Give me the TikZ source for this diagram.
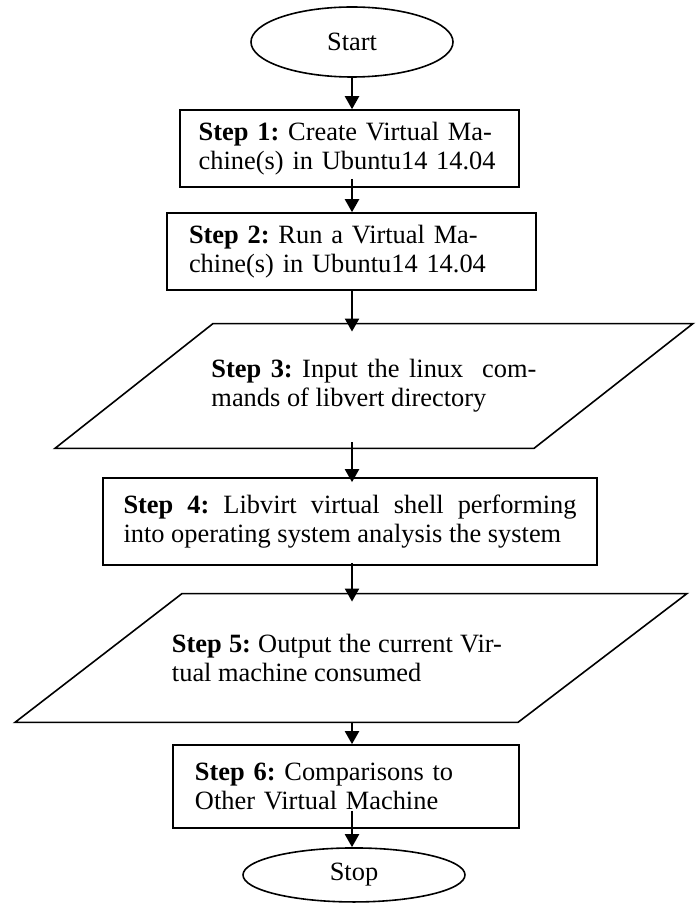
\documentclass[tikz,border=0pt]{standalone}
\usepackage{fontspec}
\setmainfont{Liberation Serif}
\usetikzlibrary{arrows.meta,calc,shapes.geometric}
\tolerance=9999
\hbadness=10000
\frenchspacing

\begin{document}
\begin{tikzpicture}[font=\fontsize{13.2pt}{14.5pt}\selectfont, >={Triangle[length=6.5pt,width=7pt]},
  term/.style={draw, ellipse, line width=0.8pt, inner sep=0pt},
  stepbox/.style={draw, rectangle, line width=0.8pt, align=left, inner xsep=11pt, inner ysep=0pt,
                  minimum height=1.353cm},
  iotext/.style={align=justify, inner sep=0pt},
  io/.style={draw, line width=0.8pt, line join=miter},
  flow/.style={->, line width=1.1pt}]
\useasboundingbox (0,0) rectangle (12.266,-15.869);
\node[term, minimum width=3.55cm, minimum height=1.23cm] (start) at (6.186,-0.738) {Start};
\node[stepbox, inner xsep=9pt, text width=5.3cm, minimum width=5.957cm] (s1) at (6.142,-2.610)
  {\textbf{Step 1:} Create Virtual Ma-\\chine(s) in Ubuntu14 14.04};
\node[stepbox, text width=5.711cm, minimum width=6.484cm] (s2) at (6.177,-4.420)
  {\textbf{Step 2:} Run a Virtual Ma-\\chine(s) in Ubuntu14 14.04};
% input parallelogram
\node[iotext, text width=5.711cm, minimum height=2.179cm] (s3) at (6.572,-6.783)
  {\textbf{Step 3:} Input the linux\ \ com-\linebreak mands of libvert directory};
\draw[io] ($(s3.south)+(-5.606,0)$) -- ($(s3.south)+(2.812,0)$) -- ($(s3.north)+(5.606,0)$)
  -- ($(s3.north)+(-2.829,0)$) -- cycle;
\node[stepbox, align=justify, inner xsep=10.25pt, text width=7.961cm, minimum width=8.681cm,
      minimum height=1.529cm] (s4) at (6.151,-9.164)
  {\textbf{Step 4:} Libvirt virtual shell performing\linebreak into operating system analysis the system};
% output parallelogram
\node[iotext, text width=5.8cm, minimum height=2.249cm] (s5) at (5.922,-11.563)
  {\textbf{Step 5:} Output the current Vir-\linebreak tual machine consumed};
\draw[io] ($(s5.south)+(-5.658,0)$) -- ($(s5.south)+(3.181,0)$) -- ($(s5.north)+(6.150,0)$)
  -- ($(s5.north)+(-2.724,0)$) -- cycle;
\node[stepbox, text width=5.307cm, minimum width=6.080cm, minimum height=1.459cm] (s6) at (6.080,-13.821)
  {\textbf{Step 6:} Comparisons to\\Other Virtual Machine};
\node[term, minimum width=3.901cm, minimum height=0.949cm] (stop) at (6.221,-15.376) {Stop};
% flow, all on one vertical
\draw[flow] (start.south) -- (start.south |- s1.north);
\draw[flow, shorten <=-4.5pt] (s1.south -| start) -- (s2.north -| start);
\draw[flow, shorten >=-4pt] (s2.south -| start) -- (s3.north -| start);
\draw[flow, shorten <=-3pt, shorten >=-2.5pt] (s3.south -| start) -- (s4.north -| start);
\draw[flow, shorten <=-1.5pt, shorten >=-4pt] (s4.south -| start) -- (s5.north -| start);
\draw[flow] (s5.south -| start) -- (s6.north -| start);
\draw[flow, shorten <=-9pt] (s6.south -| start) -- (stop.north -| start);
\end{tikzpicture}
\end{document}
